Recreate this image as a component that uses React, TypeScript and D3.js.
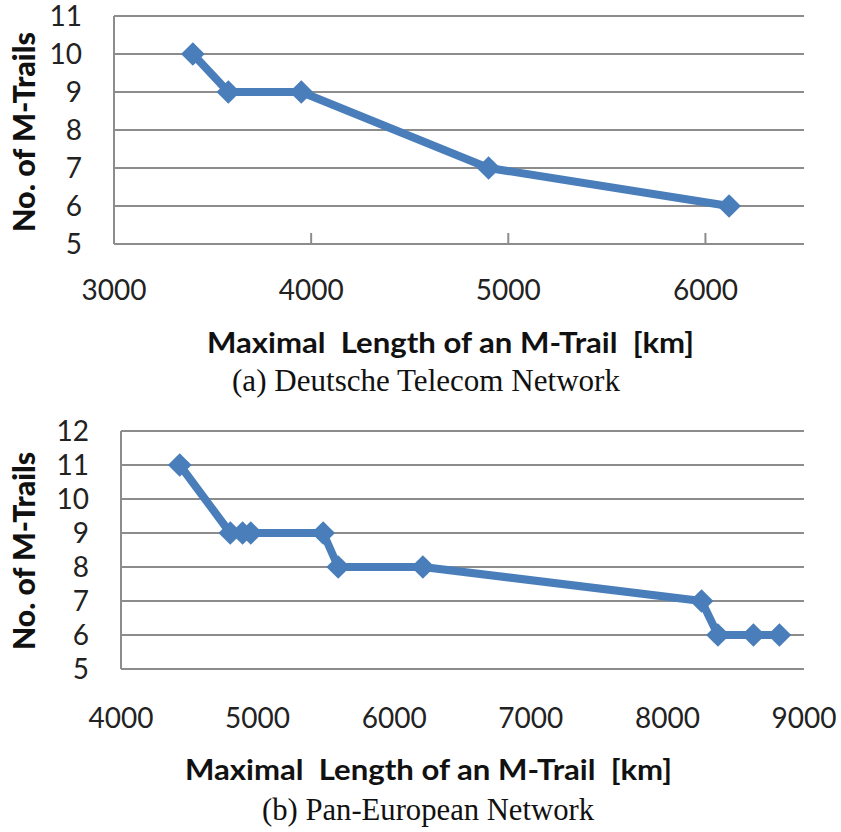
import React from "react";
import * as d3 from "d3";

// Panel (a) Deutsche Telecom Network
const dtLength = [3400, 3580, 3950, 4900, 6120];
const dtTrails = [10, 9, 9, 7, 6];
const dtXTicks = [3000, 4000, 5000, 6000];
const dtYTicks = [5, 6, 7, 8, 9, 10, 11];

// Panel (b) Pan-European Network
const peLength = [4430, 4800, 4890, 4950, 5480, 5590, 6210, 8250, 8370, 8630, 8820];
const peTrails = [11, 9, 9, 9, 9, 8, 8, 7, 6, 6, 6];
const peXTicks = [4000, 5000, 6000, 7000, 8000, 9000];
const peYTicks = [5, 6, 7, 8, 9, 10, 11, 12];

const xTitle = "Maximal  Length of an M-Trail  [km]";
const yTitle = "No. of M-Trails";
const captionA = "(a) Deutsche Telecom Network";
const captionB = "(b) Pan-European Network";

const BLUE = "#4a7ebb";
const GRID = "#8c8c8c";
const SANS = "Lato, 'Open Sans', sans-serif";
const SERIF = "'Liberation Serif', 'DejaVu Serif', serif";

type PanelProps = {
  xs: number[];
  ys: number[];
  xTicks: number[];
  yTicks: number[];
  xDomain: [number, number];
  yDomain: [number, number];
  left: number;
  right: number;
  top: number;
  bottom: number;
  innerTicks: boolean;
  tickLabelBaseline: number;
  titleX: number;
  titleBaseline: number;
  caption: string;
  captionX: number;
  captionBaseline: number;
  captionWidth: number;
  yTitleCenter: number;
  yTitleLen: number;
};

function Panel(p: PanelProps) {
  const x = d3.scaleLinear().domain(p.xDomain).range([p.left, p.right]);
  const y = d3.scaleLinear().domain(p.yDomain).range([p.bottom, p.top]);
  const line = d3
    .line<number>()
    .x((_, i) => x(p.xs[i]))
    .y((d) => y(d));
  const sym = d3.symbol().type(d3.symbolSquare).size(280)();
  return (
    <g>
      {p.yTicks.map((t) => (
        <line key={"g" + t} x1={p.left} x2={p.right} y1={y(t)} y2={y(t)} stroke={GRID} strokeWidth={2} />
      ))}
      <line x1={p.left} x2={p.left} y1={p.top} y2={p.bottom} stroke={GRID} strokeWidth={2} />
      {p.innerTicks &&
        p.xTicks.slice(1).map((t) => (
          <line key={"t" + t} x1={x(t)} x2={x(t)} y1={p.bottom} y2={p.bottom - 11} stroke={GRID} strokeWidth={2} />
        ))}
      {p.yTicks.map((t) => (
        <text
          key={"yl" + t}
          x={p.left - 32}
          y={y(t)}
          dy="0.36em"
          textAnchor="end"
          fontFamily={SANS}
          fontSize={28}
          fill="#222"
        >
          {t}
        </text>
      ))}
      {p.xTicks.map((t) => (
        <text
          key={"xl" + t}
          x={x(t)}
          y={p.tickLabelBaseline}
          textAnchor="middle"
          fontFamily={SANS}
          fontSize={28}
          fill="#222"
        >
          {t}
        </text>
      ))}
      <path d={line(p.ys) || ""} fill="none" stroke={BLUE} strokeWidth={8} strokeLinejoin="round" />
      {p.ys.map((v, i) => (
        <path key={"m" + i} d={sym || ""} fill={BLUE} transform={`translate(${x(p.xs[i])},${y(v)}) rotate(45)`} />
      ))}
      <text
        x={p.titleX - 243}
        y={p.titleBaseline}
        fontFamily={SANS}
        fontWeight="bold"
        fontSize={29}
        fill="#111"
        textLength={487}
        lengthAdjust="spacingAndGlyphs"
        style={{ whiteSpace: "pre" }}
      >
        {xTitle}
      </text>
      <text
        x={p.captionX - p.captionWidth / 2}
        y={p.captionBaseline}
        fontFamily={SERIF}
        fontSize={31}
        fill="#111"
        textLength={p.captionWidth}
        lengthAdjust="spacingAndGlyphs"
      >
        {p.caption}
      </text>
      <text
        transform={`translate(35,${p.yTitleCenter}) rotate(-90)`}
        x={-p.yTitleLen / 2}
        y={0}
        fontFamily={SANS}
        fontWeight={900}
        fontSize={30}
        fill="#111"
        textLength={p.yTitleLen}
        lengthAdjust="spacingAndGlyphs"
      >
        {yTitle}
      </text>
    </g>
  );
}

export default function App() {
  return (
    <svg
      width={841}
      height={832}
      viewBox="0 0 841 832"
      style={{ position: "absolute", left: 0, top: 0, background: "#fff", display: "block" }}
    >
      <rect width={841} height={832} fill="#fff" />
      <Panel
        xs={dtLength}
        ys={dtTrails}
        xTicks={dtXTicks}
        yTicks={dtYTicks}
        xDomain={[3000, 6500]}
        yDomain={[5, 11]}
        left={114}
        right={804}
        top={16}
        bottom={244}
        innerTicks={true}
        tickLabelBaseline={300}
        titleX={450}
        titleBaseline={353}
        caption={captionA}
        captionX={426}
        captionBaseline={391}
        captionWidth={388}
        yTitleCenter={132}
        yTitleLen={200}
      />
      <Panel
        xs={peLength}
        ys={peTrails}
        xTicks={peXTicks}
        yTicks={peYTicks}
        xDomain={[4000, 9000]}
        yDomain={[5, 12]}
        left={121}
        right={804}
        top={431}
        bottom={669}
        innerTicks={false}
        tickLabelBaseline={728}
        titleX={428}
        titleBaseline={780}
        caption={captionB}
        captionX={428}
        captionBaseline={820}
        captionWidth={332}
        yTitleCenter={551}
        yTitleLen={198}
      />
    </svg>
  );
}
